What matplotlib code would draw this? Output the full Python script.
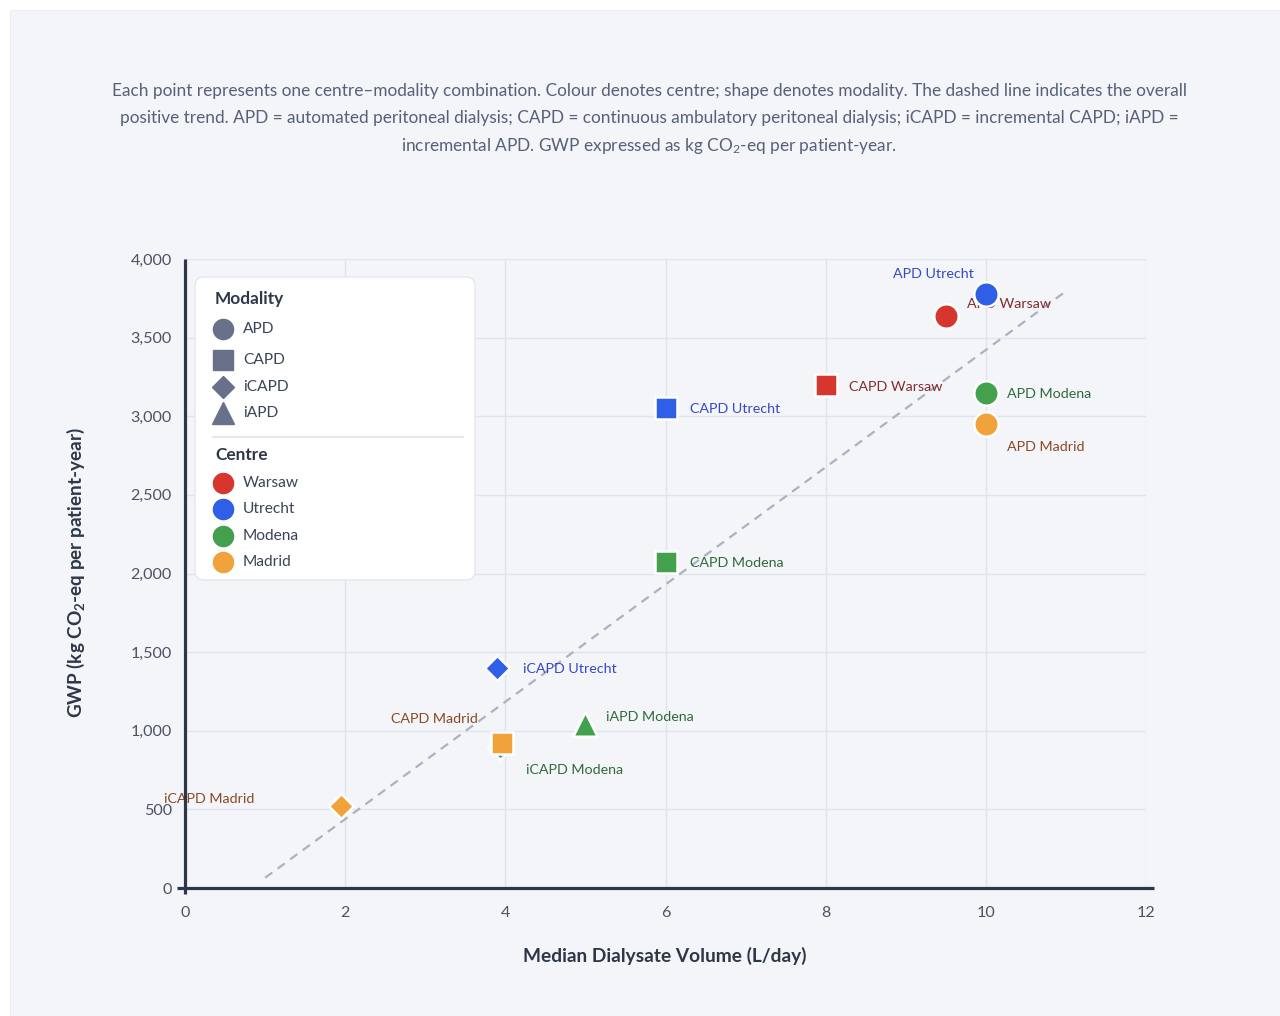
import matplotlib
matplotlib.use("Agg")
import matplotlib.pyplot as plt
from matplotlib.lines import Line2D
from matplotlib.patches import FancyBboxPatch, Rectangle
from matplotlib.transforms import IdentityTransform

# ---- data -------------------------------------------------------------
labels = ["iCAPD Madrid", "iCAPD Modena", "CAPD Madrid", "iAPD Modena",
          "iCAPD Utrecht", "CAPD Modena", "CAPD Utrecht", "CAPD Warsaw",
          "APD Madrid", "APD Modena", "APD Warsaw", "APD Utrecht"]
modality = ["iCAPD", "iCAPD", "CAPD", "iAPD", "iCAPD", "CAPD", "CAPD", "CAPD",
            "APD", "APD", "APD", "APD"]
centre = ["Madrid", "Modena", "Madrid", "Modena", "Utrecht", "Modena",
          "Utrecht", "Warsaw", "Madrid", "Modena", "Warsaw", "Utrecht"]
volume = [1.95, 3.93, 3.96, 5.0, 3.9, 6.0, 6.0, 8.0, 10.0, 10.0, 9.5, 10.0]
gwp = [520, 897, 919, 1040, 1400, 2070, 3050, 3200, 2950, 3150, 3640, 3780]

trend_x = [1.0, 11.0]
trend_y = [65, 3795]

x_ticks = [0, 2, 4, 6, 8, 10, 12]
y_ticks = [0, 500, 1000, 1500, 2000, 2500, 3000, 3500, 4000]

modality_order = ["APD", "CAPD", "iCAPD", "iAPD"]
centre_order = ["Warsaw", "Utrecht", "Modena", "Madrid"]

# ---- styling ----------------------------------------------------------
W, H = 1280, 1016
FONT = "Lato"
plt.rcParams["font.family"] = [FONT, "DejaVu Sans"]
plt.rcParams["mathtext.fontset"] = "custom"
plt.rcParams["mathtext.rm"] = FONT
plt.rcParams["mathtext.it"] = FONT
plt.rcParams["mathtext.bf"] = FONT + ":bold"

centre_colour = {"Warsaw": "#d7362f", "Utrecht": "#2f5fe6",
                 "Modena": "#43a04d", "Madrid": "#f0a33a"}
label_colour = {"Warsaw": "#852b2b", "Utrecht": "#3548c6",
                "Modena": "#2f6a3b", "Madrid": "#8a4824"}
marker_shape = {"APD": "o", "CAPD": "s", "iCAPD": "D", "iAPD": "^"}
marker_size = {"APD": 310, "CAPD": 250, "iCAPD": 160, "iAPD": 310}

# label offsets in pixels (dx right, dy down) and alignment
label_pos = {
    "APD Utrecht": (-12, -20, "right"),
    "APD Warsaw": (21, -12, "left"),
    "APD Modena": (21, 1, "left"),
    "APD Madrid": (21, 23, "left"),
    "CAPD Warsaw": (23, 2, "left"),
    "CAPD Utrecht": (24, 1, "left"),
    "CAPD Modena": (24, 1, "left"),
    "iCAPD Utrecht": (26, 1, "left"),
    "iAPD Modena": (21, -7, "left"),
    "CAPD Madrid": (-24, -24, "right"),
    "iCAPD Modena": (26, 23, "left"),
    "iCAPD Madrid": (-87, -7, "right"),
}

AXIS_DARK = "#2d3748"
TICK_COL = "#4a5263"
GRID_COL = "#dfe3eb"


def fx(px):
    return px / W


def fy(py):
    return 1 - py / H


fig = plt.figure(figsize=(W / 100, H / 100), dpi=100, facecolor="white")

# light panel behind everything
fig.add_artist(Rectangle((fx(10), 0), 1 - fx(10), fy(10), transform=fig.transFigure,
                         facecolor="#f4f5f9", edgecolor="#eceef3", lw=0.8, zorder=0))

# caption
caption = [
    "Each point represents one centre\u2013modality combination. Colour denotes centre; shape denotes modality. The dashed line indicates the overall",
    "positive trend. APD = automated peritoneal dialysis; CAPD = continuous ambulatory peritoneal dialysis; iCAPD = incremental CAPD; iAPD =",
    r"incremental APD. GWP expressed as kg CO$_2$-eq per patient-year.",
]
for i, line in enumerate(caption):
    fig.text(fx(649), fy(91 + i * 27.5), line, ha="center", va="center",
             fontsize=12.45, color="#56607a")

ax = fig.add_axes([fx(185), fy(888), (1146 - 185) / W, (888 - 259) / H])
ax.set_facecolor("none")
ax.set_xlim(0, 12)
ax.set_ylim(0, 4000)
ax.set_xticks(x_ticks)
ax.set_yticks(y_ticks)
ax.set_xticklabels([str(v) for v in x_ticks])
ax.set_yticklabels([f"{v:,}" for v in y_ticks])
ax.tick_params(axis="both", length=0, labelsize=11.6, labelcolor=TICK_COL)
ax.tick_params(axis="y", pad=9.5)
ax.tick_params(axis="x", pad=13)
ax.grid(True, color=GRID_COL, lw=1.0, zorder=0)
ax.set_axisbelow(True)
for s in ax.spines.values():
    s.set_visible(False)

# axis lines
fig.add_artist(Line2D([fx(185), fx(185)], [fy(259), fy(894)], color=AXIS_DARK,
                      lw=2.3, transform=fig.transFigure, zorder=3, solid_capstyle="butt"))
fig.add_artist(Line2D([fx(177), fx(1154)], [fy(888), fy(888)], color=AXIS_DARK,
                      lw=2.3, transform=fig.transFigure, zorder=3, solid_capstyle="butt"))

# trend line
ax.plot(trend_x, trend_y, ls=(0, (4, 3)), color="#aab2c2", lw=1.6, zorder=2)

# labels then points
for lab, m, c, x, y in zip(labels, modality, centre, volume, gwp):
    dx, dy, ha = label_pos[lab]
    ax.annotate(lab, (x, y), xytext=(dx, -dy), textcoords="offset pixels",
                ha=ha, va="center", fontsize=10.3, color=label_colour[c], zorder=3)
for lab, m, c, x, y in zip(labels, modality, centre, volume, gwp):
    ax.scatter([x], [y], s=marker_size[m], marker=marker_shape[m],
               color=centre_colour[c], edgecolor="white", linewidth=1.8, zorder=4)

fig.text(fx(665), fy(956), "Median Dialysate Volume (L/day)", ha="center", va="center",
         fontsize=13.8, fontweight="bold", color=AXIS_DARK)
fig.text(fx(76), fy(573), r"GWP (kg CO$_\mathbf{2}$-eq per patient-year)", ha="center",
         va="center", rotation=90, fontsize=13.6, fontweight="bold", color=AXIS_DARK)

# legend box
ident = IdentityTransform()
fig.add_artist(FancyBboxPatch((195, H - 580), 280, 303, boxstyle="round,pad=0,rounding_size=9",
                              transform=ident, facecolor="white", edgecolor="#e3e7ee",
                              lw=1.0, zorder=5))
LEG_TXT = "#3b4456"
fig.text(fx(215), fy(299), "Modality", ha="left", va="center", fontsize=12.4,
         fontweight="bold", color=AXIS_DARK, zorder=6)
leg_mod_y = [329, 360, 387, 413]
leg_mod_ms = {"APD": 14.5, "CAPD": 14, "iCAPD": 11.5, "iAPD": 15.5}
for m, py in zip(modality_order, leg_mod_y):
    fig.add_artist(Line2D([fx(223)], [fy(py)], marker=marker_shape[m],
                          markersize=leg_mod_ms[m], color="#687189", lw=0,
                          transform=fig.transFigure, zorder=6))
    fig.text(fx(243), fy(py), m, ha="left", va="center", fontsize=11.2, color=LEG_TXT, zorder=6)
fig.add_artist(Line2D([fx(213), fx(463)], [fy(437), fy(437)], color="#e3e7ee", lw=1.5,
                      transform=fig.transFigure, zorder=6))
fig.text(fx(215), fy(455), "Centre", ha="left", va="center", fontsize=12.4,
         fontweight="bold", color=AXIS_DARK, zorder=6)
leg_cen_y = [483, 509, 536, 562]
for c, py in zip(centre_order, leg_cen_y):
    fig.add_artist(Line2D([fx(223)], [fy(py)], marker="o", markersize=14.5,
                          color=centre_colour[c], lw=0, transform=fig.transFigure, zorder=6))
    fig.text(fx(243), fy(py), c, ha="left", va="center", fontsize=11.2, color=LEG_TXT, zorder=6)

fig.savefig("out.png", dpi=100)
